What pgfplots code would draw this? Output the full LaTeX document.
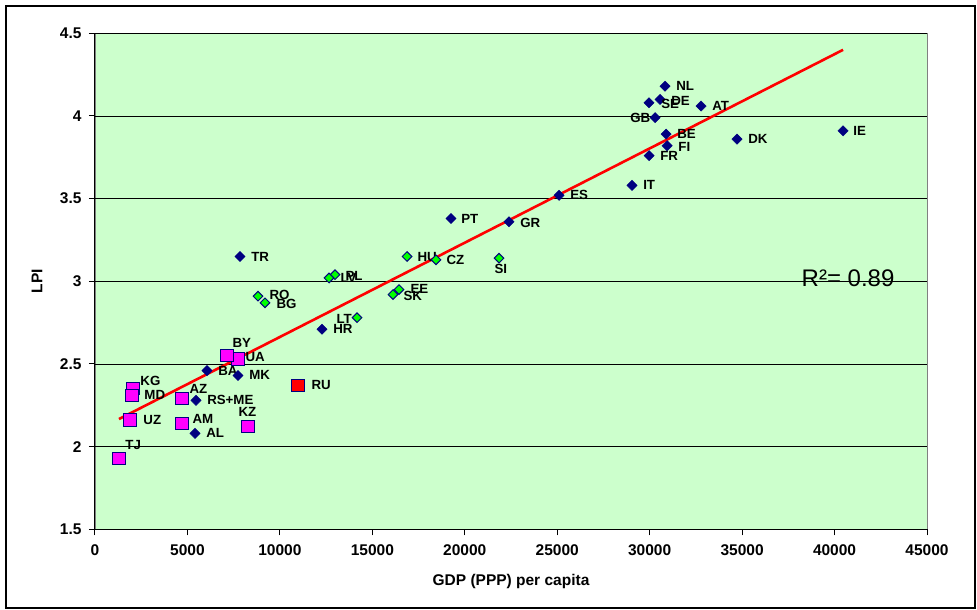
\documentclass[border=0pt]{standalone}
\usepackage{pgfplots}
\pgfplotsset{compat=1.18}
\usepackage{pgfplotstable}
\usepackage{fontspec}
\setmainfont{Liberation Sans}

\definecolor{bggreen}{RGB}{204,255,204}
\definecolor{navyb}{RGB}{0,0,128}
\definecolor{limeg}{RGB}{0,255,0}
\definecolor{magen}{RGB}{255,0,255}

\newcommand\lblfont{\fontsize{13.3}{15}\selectfont\bfseries}
\newcommand\tickfont{\fontsize{15.5}{18}\selectfont\bfseries}

% x = GDP (PPP) per capita, y = LPI, dx/dy = label offset
\pgfplotstableread{
x     y     dx   dy   lab
30830 4.18  11   0    NL
30560 4.10  11  -1    DE
29965 4.08  12  -1    SE
32780 4.06  11   0    AT
30295 3.99 -25   0    GB
30890 3.89  11   0    BE
30945 3.82  11  -1    FI
29970 3.76  11   0    FR
34726 3.86  11   0    DK
40460 3.91  10   0    IE
29046 3.58  11   0    IT
25098 3.52  11   0    ES
22393 3.36  11  -1    GR
19256 3.38  10   0    PT
7843  3.15  11   0    TR
12278 2.71  11   0    HR
6058  2.46  11   0    BA
7735  2.43  11   1    MK
5463  2.28  11   0    RS+ME
5409  2.08  11   0    AL
}\navytab

\pgfplotstableread{
x     y     dx   dy   lab
16876 3.15  10   0    HU
18445 3.13  10   0    CZ
21852 3.14  -5  -11   SI
12982 3.04  10  -1    PL
12657 3.02  11   0    LV
16443 2.95  11   1    EE
16119 2.92  10  -1    SK
8817  2.91  11   1    RO
9195  2.87  11  -1    BG
14172 2.78 -21  -1    LT
}\greentab

\pgfplotstableread{
x     y     dx   dy   lab
7735  2.53  7    2    UA
7140  2.55  5    13   BY
2055  2.35  7    8    KG
2001  2.31  12   0    MD
4706  2.29  7    10   AZ
1893  2.16  13   0    UZ
4706  2.14  10   5    AM
8276  2.12 -10   15   KZ
1298  1.93  6    13   TJ
}\cistab

\pgfplotstableread{
x     y     dx   dy   lab
10980 2.37  13   0    RU
}\rutab

\pgfplotsset{
  lbl/.style={
    only marks,
    nodes near coords,
    point meta=explicit symbolic,
    visualization depends on={\thisrow{dx}\as\dx},
    visualization depends on={\thisrow{dy}\as\dy},
    every node near coord/.append style={anchor=west, xshift=\dx pt,
      yshift=\dy pt, inner sep=0pt, text=black, font=\lblfont},
  },
}

\begin{document}
\begin{tikzpicture}
\useasboundingbox (-95pt,-80.7pt) rectangle (882pt,529.3pt);
\draw[line width=2.5pt] (-89pt,-78.5pt) rectangle (880pt,523.3pt);
\begin{axis}[
    scale only axis,
    width=832pt,
    height=496pt,
    xmin=0, xmax=45000,
    ymin=1.5, ymax=4.5,
    xtick distance=5000,
    scaled x ticks=false,
    ytick={1.5,2,2.5,3,3.5,4,4.5},
    axis x line*=bottom,
    axis y line*=left,
    axis line style={black, line width=1pt},
    axis background/.style={fill=bggreen, draw=gray},
    ymajorgrids,
    grid style={black, line width=0.8pt},
    tick align=outside,
    major tick length=6pt,
    tick style={black, line width=1pt},
    ticklabel style={font=\tickfont},
    /pgf/number format/assume math mode=true,
    /pgf/number format/1000 sep={},
    xticklabel style={yshift=-6pt},
    yticklabel style={xshift=-4pt},
    xlabel={GDP (PPP) per capita},
    ylabel={LPI},
    label style={font=\fontsize{15.5}{18}\selectfont\bfseries},
    xlabel style={at={(rel axis cs:0.5,0)}, anchor=center, yshift=-52pt},
    ylabel style={at={(rel axis cs:0,0.5)}, anchor=center, yshift=58pt},
]
\addplot[lbl, mark=square*, mark size=3.6pt,
  mark options={rotate=45, fill=navyb, draw=navyb, line width=0.5pt}]
  table[x=x, y=y, meta=lab] {\navytab};
\addplot[lbl, mark=square*, mark size=3.4pt,
  mark options={rotate=45, fill=limeg, draw=navyb, line width=1pt}]
  table[x=x, y=y, meta=lab] {\greentab};
\addplot[lbl, mark=square*, mark size=6.2pt,
  mark options={fill=magen, draw=navyb, line width=1pt}]
  table[x=x, y=y, meta=lab] {\cistab};
\addplot[lbl, mark=square*, mark size=6.2pt,
  mark options={fill=red, draw=navyb, line width=1pt}]
  table[x=x, y=y, meta=lab] {\rutab};
\addplot[red, line width=2.6pt] coordinates {(1298,2.167) (40460,4.40)};
\node[font=\fontsize{24}{28}\selectfont] at (axis cs:40730,3.02) {R²= 0.89};
\end{axis}
\end{tikzpicture}
\end{document}
